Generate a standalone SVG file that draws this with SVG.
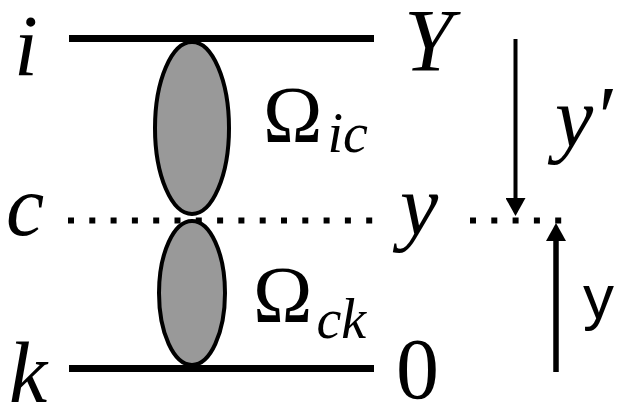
<svg xmlns="http://www.w3.org/2000/svg" width="619" height="407" viewBox="0 0 619 407">
<style>
.m{font-family:'Liberation Serif','Times New Roman',serif;font-style:italic;fill:#000}
.r{font-family:'Liberation Serif','Times New Roman',serif;fill:#000}
.s{font-family:'Liberation Sans',Arial,sans-serif;fill:#000}
.solid{stroke:#000;stroke-width:7;fill:none}
.dot{stroke:#000;stroke-width:6;fill:none;stroke-dasharray:6 15.3}
.blob{fill:#999;stroke:#000;stroke-width:4}
</style>
<defs>
<marker id="ah" viewBox="0 0 18 20" refX="0" refY="10" markerWidth="18" markerHeight="20" markerUnits="userSpaceOnUse" orient="auto">
<path d="M0,0 L18,10 L0,20 z" fill="#000"/>
</marker>
</defs>
<g id="lines">
<line class="solid" x1="69" y1="38.5" x2="374" y2="38.5"/>
<line class="solid" x1="69" y1="368.5" x2="374" y2="368.5"/>
<line class="dot" x1="68" y1="220.5" x2="373" y2="220.5"/>
<line class="dot" x1="470" y1="220.5" x2="563" y2="220.5"/>
</g>
<g id="blob-ic"><ellipse class="blob" cx="192" cy="128" rx="37" ry="86"/></g>
<g id="blob-ck"><ellipse class="blob" cx="192" cy="293" rx="33" ry="72"/></g>
<g id="connectors">
<line x1="515.5" y1="39" x2="515.5" y2="198" stroke="#000" stroke-width="4" marker-end="url(#ah)"/>
<line x1="556" y1="372" x2="556" y2="241" stroke="#000" stroke-width="5.5" marker-end="url(#ah)"/>
</g>
<g id="labels">
<text class="m" x="14" y="75" font-size="86">i</text>
<text class="m" x="6" y="235" font-size="86">c</text>
<text class="m" x="9" y="402" font-size="86">k</text>
<text class="m" x="404" y="70" font-size="88">Y</text>
<text class="m" x="400" y="234" font-size="86">y</text>
<text class="r" x="396" y="398" font-size="86">0</text>
<text class="m" x="555" y="146" font-size="86">y′</text>
<text class="s" x="583" y="318" font-size="62">y</text>
<text class="r" x="263" y="142" font-size="80">Ω<tspan class="m" font-size="56" dx="5" dy="10">ic</tspan></text>
<text class="r" x="253" y="322" font-size="80">Ω<tspan class="m" font-size="56" dx="4" dy="16">ck</tspan></text>
</g>
</svg>
